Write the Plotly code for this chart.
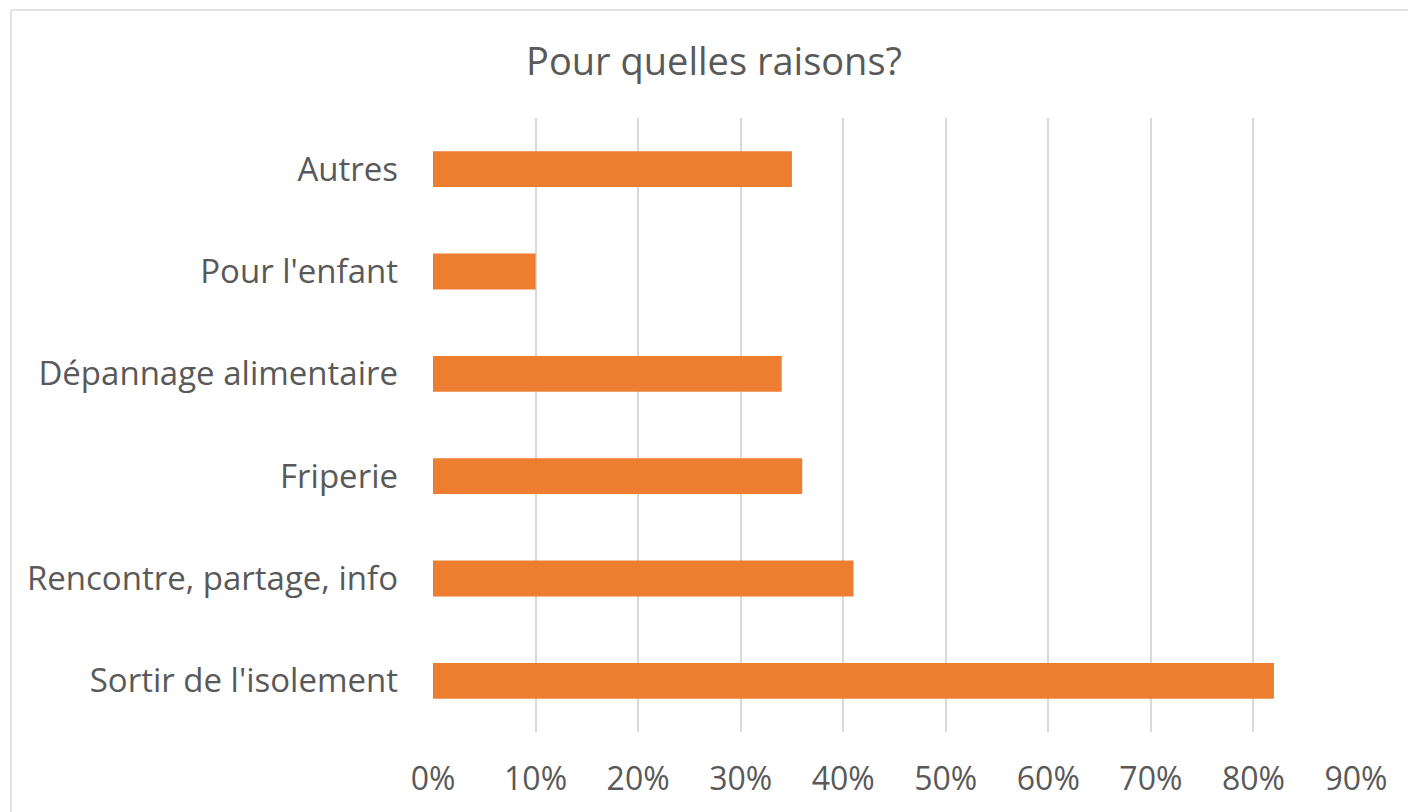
import plotly.graph_objects as go

categories = ["Sortir de l'isolement", "Rencontre, partage, info", "Friperie",
              "Dépannage alimentaire", "Pour l'enfant", "Autres"]
values = [0.82, 0.41, 0.36, 0.34, 0.10, 0.35]
tick_vals = [0, 0.1, 0.2, 0.3, 0.4, 0.5, 0.6, 0.7, 0.8, 0.9]
tick_text = ["0%", "10%", "20%", "30%", "40%", "50%", "60%", "70%", "80%", "90%"]
title_text = "Pour quelles raisons?"

W, H = 1408, 812
L, R, T, B = 433, W - 1356, 118, H - 732
pw, ph = W - L - R, H - T - B

fig = go.Figure(go.Bar(
    x=values, y=categories, orientation="h",
    marker=dict(color="#ED7D31", line=dict(width=0)),
))

bx0 = (11 - L) / pw
by1 = (H - B - 10) / ph
border = dict(color="#D9D9D9", width=1.5)

fig.update_layout(
    width=W, height=H,
    margin=dict(l=L, r=R, t=T, b=B, autoexpand=False),
    paper_bgcolor="white", plot_bgcolor="white",
    bargap=0.65,
    showlegend=False,
    font=dict(family="Open Sans", color="#595959"),
    title=dict(text=title_text, x=(714 - L) / pw, xref="paper", xanchor="center",
               y=1 - 62 / H, yref="container", yanchor="middle",
               font=dict(size=38, color="#595959", family="Open Sans")),
    xaxis=dict(range=[0, 0.9], tickvals=tick_vals, ticktext=tick_text,
               showgrid=True, gridcolor="#D9D9D9", gridwidth=1.5,
               zeroline=False, showline=False, ticks="",
               tickfont=dict(size=32, color="#595959"), ticklabelstandoff=25),
    yaxis=dict(showgrid=False, zeroline=False, showline=False, ticks="",
               tickfont=dict(size=33, color="#595959"), ticklabelstandoff=34),
    shapes=[
        dict(type="line", xref="paper", yref="paper", x0=bx0, x1=1.3, y0=by1, y1=by1,
             line=border, layer="below"),
        dict(type="line", xref="paper", yref="paper", x0=bx0, x1=bx0, y0=-0.5, y1=by1,
             line=border, layer="below"),
    ],
)

fig.write_html(
    "out.html",
    config={"displayModeBar": False},
    post_script="document.body.style.margin='0';document.body.style.overflow='hidden';",
)
